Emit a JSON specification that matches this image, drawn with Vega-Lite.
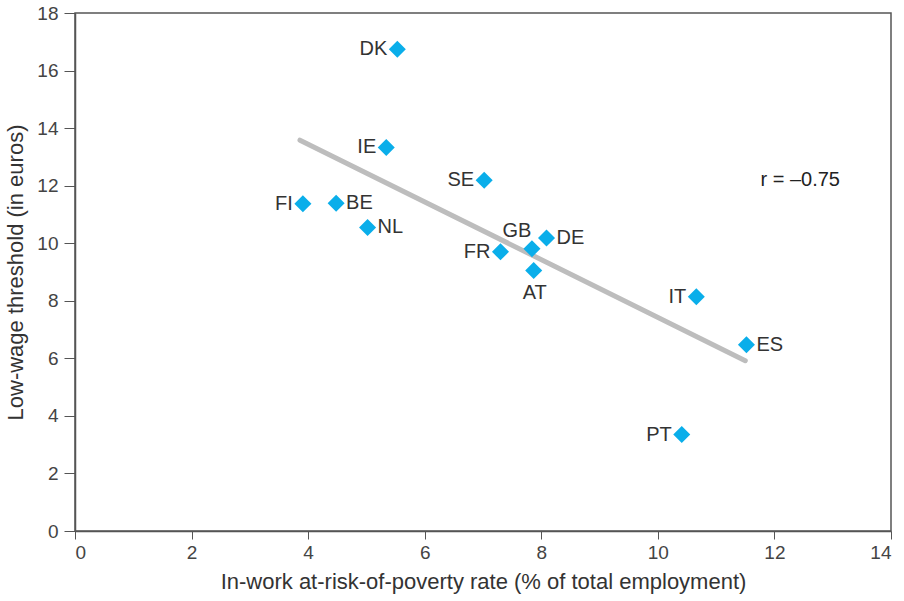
{
  "$schema": "https://vega.github.io/schema/vega-lite/v6.json",
  "autosize": "none",
  "width": 816,
  "height": 518,
  "padding": {"left": 75, "top": 13, "right": 13, "bottom": 70},
  "background": "white",
  "config": {
    "font": "Liberation Sans",
    "view": {"stroke": "#555555", "strokeWidth": 1.5}
  },
  "datasets": {
    "points": [
      {"country": "DK", "rate": 5.53, "threshold": 16.74},
      {"country": "IE", "rate": 5.34, "threshold": 13.33},
      {"country": "SE", "rate": 7.02, "threshold": 12.19},
      {"country": "FI", "rate": 3.91, "threshold": 11.37},
      {"country": "BE", "rate": 4.48, "threshold": 11.39},
      {"country": "NL", "rate": 5.02, "threshold": 10.55},
      {"country": "GB", "rate": 7.84, "threshold": 9.81},
      {"country": "DE", "rate": 8.09, "threshold": 10.18},
      {"country": "FR", "rate": 7.30, "threshold": 9.70},
      {"country": "AT", "rate": 7.87, "threshold": 9.05},
      {"country": "IT", "rate": 10.66, "threshold": 8.14},
      {"country": "ES", "rate": 11.52, "threshold": 6.47},
      {"country": "PT", "rate": 10.41, "threshold": 3.35}
    ],
    "fit": [
      {"rate": 3.86, "threshold": 13.58},
      {"rate": 11.50, "threshold": 5.92}
    ],
    "note": [
      {"rate": 11.76, "threshold": 12.19, "label": "r = –0.75"}
    ]
  },
  "layer": [
    {
      "data": {"name": "fit"},
      "mark": {"type": "line", "color": "#BDBDBD", "strokeWidth": 5, "strokeCap": "round"},
      "encoding": {
        "x": {"field": "rate", "type": "quantitative", "scale": {"domain": [0, 14], "nice": false},
              "axis": {"values": [0, 2, 4, 6, 8, 10, 12, 14], "format": "d", "grid": false,
                       "title": "In-work at-risk-of-poverty rate (% of total employment)",
                       "domainColor": "#555555", "domainWidth": 1.5, "tickColor": "#555555", "tickSize": 8,
                       "labelColor": "#444444", "labelFontSize": 19, "labelPadding": 4,
                       "titleColor": "#333333", "titleFontSize": 22, "titleFontWeight": "normal", "titlePadding": 9}},
        "y": {"field": "threshold", "type": "quantitative", "scale": {"domain": [0, 18], "nice": false},
              "axis": {"values": [0, 2, 4, 6, 8, 10, 12, 14, 16, 18], "format": "d", "grid": false,
                       "title": "Low-wage threshold (in euros)",
                       "domainColor": "#555555", "domainWidth": 1.5, "tickColor": "#555555", "tickSize": 11,
                       "labelColor": "#444444", "labelFontSize": 19, "labelPadding": 6,
                       "titleColor": "#333333", "titleFontSize": 22, "titleFontWeight": "normal", "titlePadding": 9}}
      }
    },
    {
      "data": {"name": "points"},
      "mark": {"type": "point", "shape": "diamond", "filled": true, "size": 290, "color": "#0AAEEA", "opacity": 1},
      "encoding": {
        "x": {"field": "rate", "type": "quantitative"},
        "y": {"field": "threshold", "type": "quantitative"}
      }
    },
    {
      "data": {"name": "points"},
      "transform": [{"filter": {"field": "country", "oneOf": ["DK", "IE", "SE", "FI", "FR", "IT", "PT"]}}],
      "mark": {"type": "text", "align": "right", "baseline": "middle", "dx": -10, "fontSize": 20, "color": "#333333"},
      "encoding": {
        "x": {"field": "rate", "type": "quantitative"},
        "y": {"field": "threshold", "type": "quantitative"},
        "text": {"field": "country"}
      }
    },
    {
      "data": {"name": "points"},
      "transform": [{"filter": {"field": "country", "oneOf": ["BE", "NL", "DE", "ES"]}}],
      "mark": {"type": "text", "align": "left", "baseline": "middle", "dx": 10, "fontSize": 20, "color": "#333333"},
      "encoding": {
        "x": {"field": "rate", "type": "quantitative"},
        "y": {"field": "threshold", "type": "quantitative"},
        "text": {"field": "country"}
      }
    },
    {
      "data": {"name": "points"},
      "transform": [{"filter": {"field": "country", "equal": "GB"}}],
      "mark": {"type": "text", "align": "center", "baseline": "middle", "dx": -15, "dy": -18, "fontSize": 20, "color": "#333333"},
      "encoding": {
        "x": {"field": "rate", "type": "quantitative"},
        "y": {"field": "threshold", "type": "quantitative"},
        "text": {"field": "country"}
      }
    },
    {
      "data": {"name": "points"},
      "transform": [{"filter": {"field": "country", "equal": "AT"}}],
      "mark": {"type": "text", "align": "center", "baseline": "middle", "dx": 1, "dy": 22, "fontSize": 20, "color": "#333333"},
      "encoding": {
        "x": {"field": "rate", "type": "quantitative"},
        "y": {"field": "threshold", "type": "quantitative"},
        "text": {"field": "country"}
      }
    },
    {
      "data": {"name": "note"},
      "mark": {"type": "text", "align": "left", "baseline": "middle", "fontSize": 20, "color": "#222222"},
      "encoding": {
        "x": {"field": "rate", "type": "quantitative"},
        "y": {"field": "threshold", "type": "quantitative"},
        "text": {"field": "label"}
      }
    }
  ]
}
